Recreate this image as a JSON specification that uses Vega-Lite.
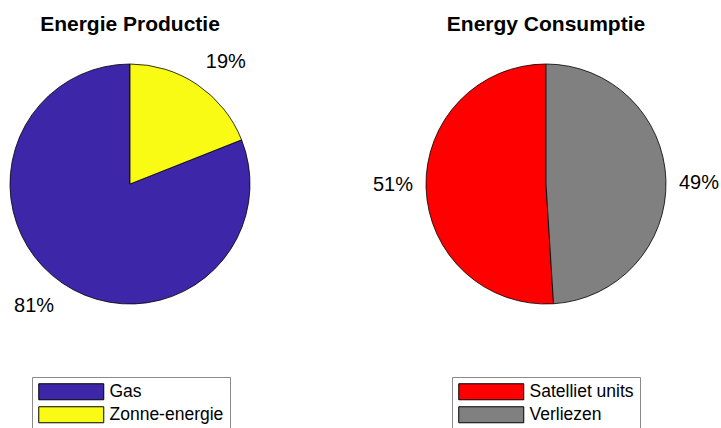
{
  "$schema": "https://vega.github.io/schema/vega-lite/v6.json",
  "padding": {"top": 14, "left": 0, "right": 0, "bottom": 0},
  "background": "white",
  "datasets": {
    "prod": [
      {"category": "Gas", "value": 81, "label": "81%"},
      {"category": "Zonne-energie", "value": 19, "label": "19%"}
    ],
    "cons": [
      {"category": "Satelliet units", "value": 51, "label": "51%"},
      {"category": "Verliezen", "value": 49, "label": "49%"}
    ]
  },
  "spacing": 156,
  "bounds": "flush",
  "hconcat": [
    {
      "width": 260,
      "height": 290,
      "title": "Energie Productie",
      "data": {"name": "prod"},
      "encoding": {
        "order": {"field": "category", "sort": "descending"},
        "color": {
          "field": "category",
          "type": "nominal",
          "scale": {"domain": ["Gas", "Zonne-energie"], "range": ["#3E26A8", "#F9FB15"]},
          "legend": {"orient": "none", "legendX": 32, "legendY": 338, "title": null}
        }
      },
      "layer": [
        {
          "mark": {"type": "arc", "outerRadius": 120, "stroke": "black", "strokeWidth": 0.8},
          "encoding": {"theta": {"field": "value", "type": "quantitative", "stack": true}}
        },
        {
          "mark": {"type": "text", "radius": 155, "fontSize": 20, "baseline": "middle", "font": "Liberation Sans"},
          "encoding": {
            "theta": {"field": "value", "type": "quantitative", "stack": true, "scale": {"range": [0.07, 6.3532]}},
            "text": {"field": "label"},
            "color": {"value": "black"}
          }
        }
      ],
      "resolve": {"scale": {"theta": "independent"}}
    },
    {
      "width": 260,
      "height": 290,
      "title": "Energy Consumptie",
      "data": {"name": "cons"},
      "encoding": {
        "order": {"field": "category", "sort": "descending"},
        "color": {
          "field": "category",
          "type": "nominal",
          "scale": {"domain": ["Satelliet units", "Verliezen"], "range": ["#FF0000", "#808080"]},
          "legend": {"orient": "none", "legendX": 36, "legendY": 338, "title": null}
        }
      },
      "layer": [
        {
          "mark": {"type": "arc", "outerRadius": 120, "stroke": "black", "strokeWidth": 0.8},
          "encoding": {"theta": {"field": "value", "type": "quantitative", "stack": true}}
        },
        {
          "mark": {"type": "text", "radius": 153, "fontSize": 20, "baseline": "middle", "font": "Liberation Sans"},
          "encoding": {
            "theta": {"field": "value", "type": "quantitative", "stack": true, "scale": {"range": [0.026, 6.3092]}},
            "text": {"field": "label"},
            "color": {"value": "black"}
          }
        }
      ],
      "resolve": {"scale": {"theta": "independent"}}
    }
  ],
  "resolve": {"scale": {"color": "independent"}, "legend": {"color": "independent"}},
  "config": {
    "view": {"stroke": null},
    "font": "Liberation Sans",
    "title": {"fontSize": 21, "fontWeight": "bold", "color": "black", "anchor": "middle", "offset": 0, "font": "Liberation Sans"},
    "legend": {
      "symbolType": "M-1,-1H7.125V1H-1Z",
      "symbolSize": 256,
      "symbolStrokeColor": "black",
      "symbolStrokeWidth": 1,
      "symbolOpacity": 1,
      "labelFontSize": 17.5,
      "labelFont": "Liberation Sans",
      "labelColor": "black",
      "labelOffset": 54,
      "labelLimit": 300,
      "padding": 6,
      "rowPadding": 2,
      "strokeColor": "#8a8a8a",
      "fillColor": "white"
    }
  }
}
